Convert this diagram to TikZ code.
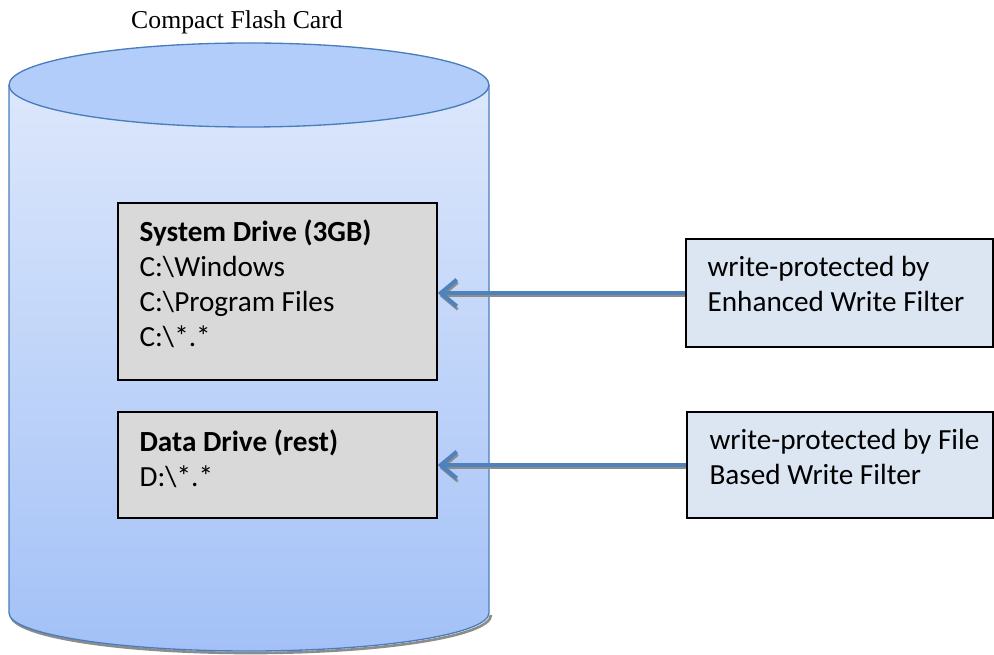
\documentclass[tikz,border=0pt]{standalone}
\usepackage{fontspec}
\setmainfont{Carlito}
\newfontfamily\titlefont{Liberation Serif}
\usetikzlibrary{arrows.meta,calc}
\definecolor{cylborder}{HTML}{4A7EBB}
\definecolor{cyltop}{HTML}{DCE7FB}
\definecolor{cylbot}{HTML}{A3C1F7}
\definecolor{cylcap}{HTML}{B3CDFA}
\definecolor{grayfill}{HTML}{D9D9D9}
\definecolor{bluefill}{HTML}{DCE6F2}
\definecolor{arrowc}{HTML}{4F81BD}
\definecolor{shadowc}{HTML}{8C8C8C}
\tikzset{
  gbox/.style={draw=black, line width=1pt, fill=grayfill, inner sep=0pt},
  bbox/.style={draw=black, line width=1pt, fill=bluefill, inner sep=0pt},
  boxtext/.style={anchor=north west, inner sep=0pt, align=left, font=\fontsize{21.9pt}{26.25pt}\selectfont},
  arr/.style={draw=arrowc, line width=3pt, -{Straight Barb[length=12pt,width=20pt,line width=3pt]}},
  arrshadow/.style={draw=shadowc, line width=2pt, -{Straight Barb[length=12pt,width=20pt,line width=2pt]}}
}
\begin{document}
\begin{tikzpicture}[x=0.75pt,y=-0.75pt]
\useasboundingbox (0,0) rectangle (994,655);
% title
\node[font=\titlefont\fontsize{19.3pt}{23pt}\selectfont, inner sep=0pt] (title) at (237,22) {Compact Flash Card};
% cylinder shadow
\draw[shadowc, line width=2pt] (11,615) arc[start angle=180, end angle=360, x radius=180pt, y radius=28.5pt];
% cylinder body
\shade[top color=cyltop, bottom color=cylbot] (9,85) -- (9,613) arc[start angle=180, end angle=360, x radius=180pt, y radius=28.5pt] -- (489,85) -- cycle;
\draw[cylborder, line width=1pt] (9,85) -- (9,613) arc[start angle=180, end angle=360, x radius=180pt, y radius=28.5pt] -- (489,85);
\draw[cylborder, line width=1pt, fill=cylcap] (249,85) ellipse [x radius=180pt, y radius=31.5pt];
\coordinate (cyl) at (249,350);
% drive boxes
\node[gbox, minimum width=239.25pt, minimum height=132.75pt] (sys) at (277.5,291.5) {};
\node[boxtext] (systext) at ($(sys.north west)+(22,17)$) {\textbf{System Drive (3GB)}\\C:\textbackslash Windows\\C:\textbackslash Program Files\\C:\textbackslash *.*};
\node[gbox, minimum width=239.25pt, minimum height=79.5pt] (data) at (277.5,465) {};
\node[boxtext] (datatext) at ($(data.north west)+(22,18)$) {\textbf{Data Drive (rest)}\\D:\textbackslash *.*};
% filter boxes
\node[bbox, minimum width=230.25pt, minimum height=81pt] (ewf) at (839.5,293) {};
\node[boxtext] (ewftext) at ($(ewf.north west)+(22,18)$) {write-protected by\\Enhanced Write Filter};
\node[bbox, minimum width=229.5pt, minimum height=79.5pt] (fbwf) at (840,465) {};
\node[boxtext] (fbwftext) at ($(fbwf.north west)+(23,18)$) {write-protected by File\\Based Write Filter};
% arrows with shadow
\draw[arrshadow] ([shift={(0,3)}]ewf.west) -- ([shift={(2,3)}]sys.east |- ewf.west);
\draw[arr] (ewf.west) -- (sys.east |- ewf.west);
\draw[arrshadow] ([shift={(0,3)}]fbwf.west) -- ([shift={(2,3)}]data.east |- fbwf.west);
\draw[arr] (fbwf.west) -- (data.east |- fbwf.west);
\end{tikzpicture}
\end{document}
